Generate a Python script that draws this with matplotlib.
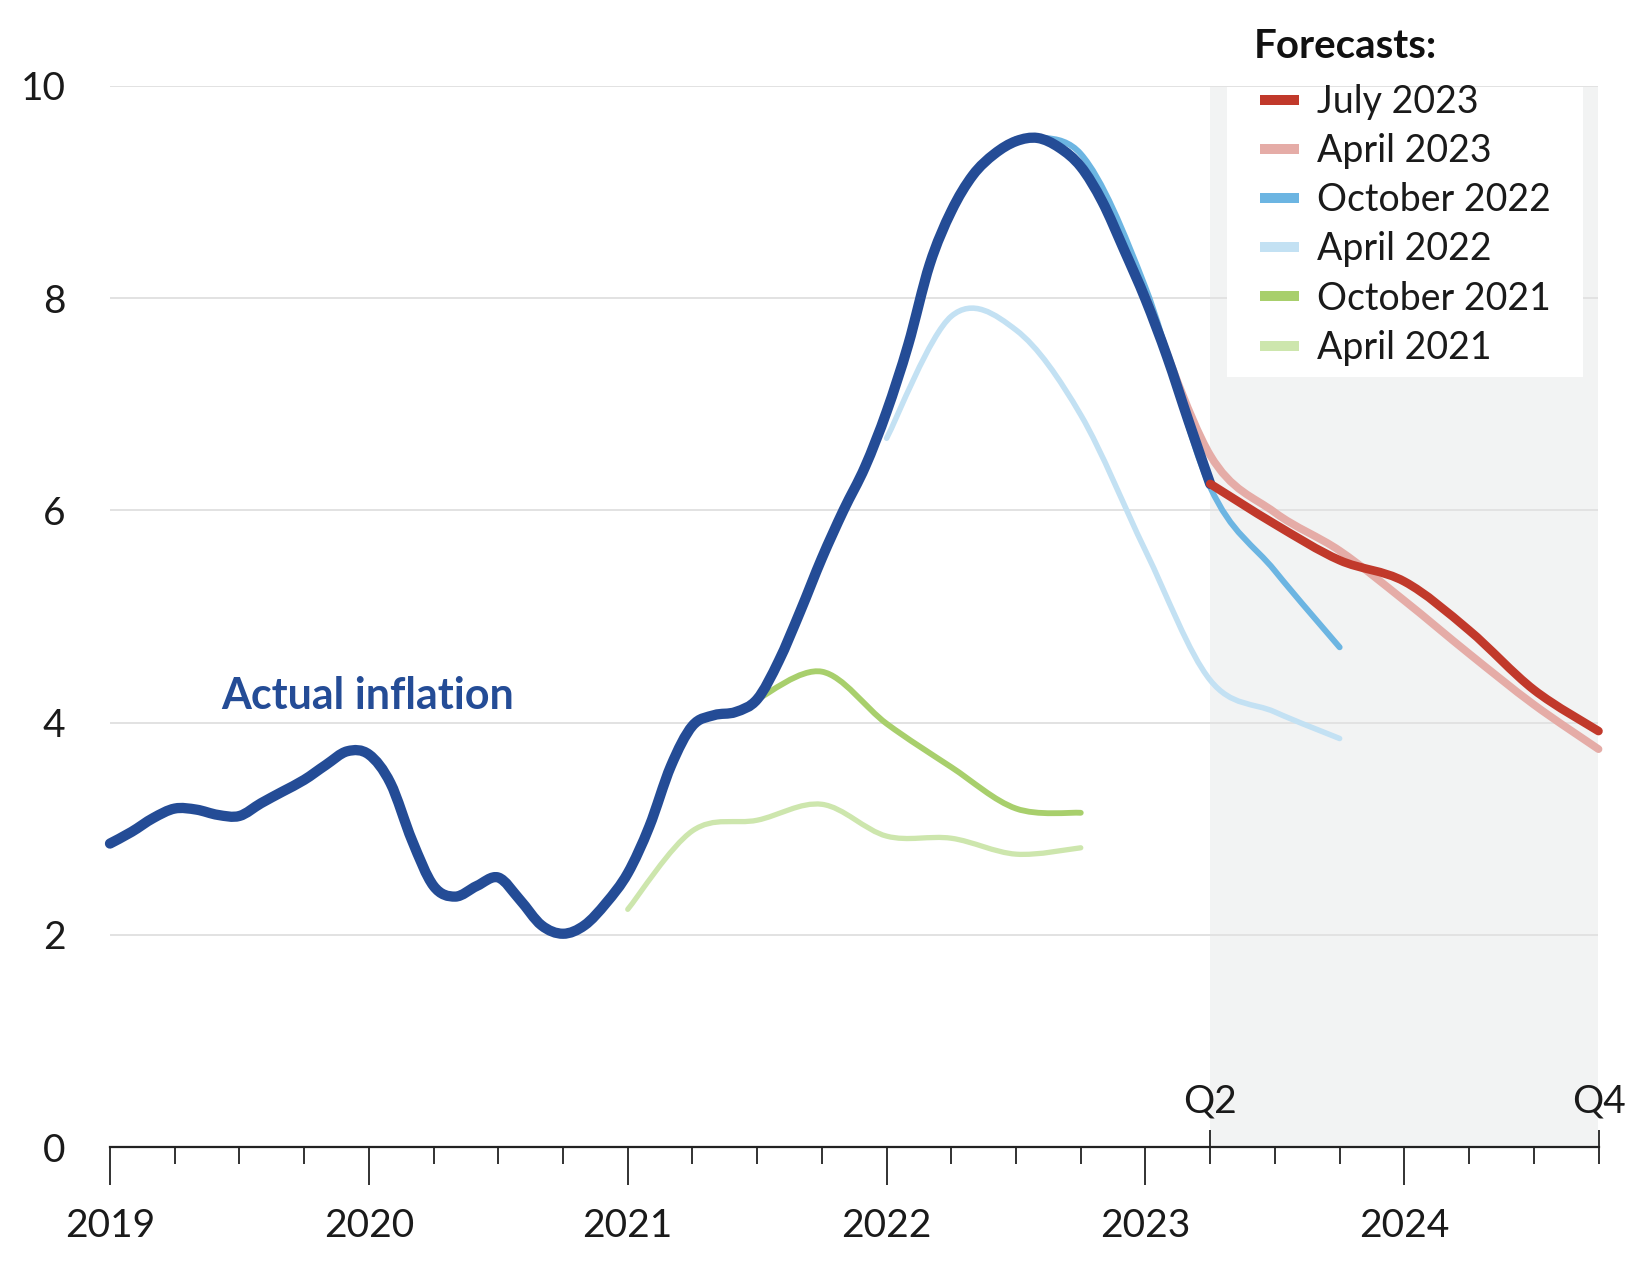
import matplotlib
matplotlib.use("Agg")
import matplotlib.pyplot as plt
import numpy as np
from matplotlib.path import Path
from matplotlib.patches import PathPatch, Rectangle
from matplotlib.lines import Line2D

plt.rcParams.update({
    "font.family": ["Lato", "DejaVu Sans"],
    "text.color": "#1a1a1a",
    "xtick.color": "#1a1a1a",
    "ytick.color": "#1a1a1a",
})

# --- Data ------------------------------------------------------------
# actual inflation, monthly from Jan 2019 to Apr 2023 (%)
actual_inflation = [
    2.86, 2.97, 3.10, 3.19, 3.18, 3.13, 3.12, 3.24, 3.35, 3.46, 3.60, 3.73,
    3.70, 3.43, 2.89, 2.46, 2.36, 2.46, 2.54, 2.33, 2.09, 2.01, 2.09, 2.30,
    2.58, 3.02, 3.59, 3.97, 4.07, 4.10, 4.22, 4.58, 5.05, 5.55, 6.00, 6.41,
    6.93, 7.56, 8.32, 8.82, 9.16, 9.36, 9.48, 9.51, 9.42, 9.24, 8.91, 8.46,
    7.99, 7.45, 6.84, 6.25,
]
actual_start = 2019.0

# forecast vintages, quarterly values (%) and the quarter they start at
forecast_labels = ["July 2023", "April 2023", "October 2022",
                   "April 2022", "October 2021", "April 2021"]
jul2023 = [6.25, 5.87, 5.53, 5.33, 4.87, 4.31, 3.92]
apr2023 = [8.02, 6.52, 5.98, 5.62, 5.15, 4.65, 4.17, 3.75]
oct2022 = [9.50, 9.36, 8.10, 6.22, 5.43, 4.71]
apr2022 = [6.68, 7.83, 7.70, 6.90, 5.62, 4.40, 4.10, 3.85]
oct2021 = [4.22, 4.48, 3.99, 3.58, 3.19, 3.15]
apr2021 = [2.24, 2.98, 3.08, 3.23, 2.93, 2.91, 2.76, 2.82]
forecast_starts = [2023.25, 2023.0, 2022.5, 2022.0, 2021.5, 2021.0]
forecast_values = [jul2023, apr2023, oct2022, apr2022, oct2021, apr2021]

year_ticks = [2019, 2020, 2021, 2022, 2023, 2024]
quarter_marks = [2023.25, 2024.75]
quarter_labels = ["Q2", "Q4"]
y_ticks = [0, 2, 4, 6, 8, 10]
forecast_window = (2023.25, 2024.75)

# --- Style -----------------------------------------------------------
ACTUAL_COLOR = "#244c96"
FORECAST_COLORS = ["#c1392b", "#e5aca7", "#6cb5e2", "#c3e1f3", "#a8cf6c", "#cde6ad"]
FORECAST_WIDTHS = [6.2, 5.6, 4.3, 4.0, 4.2, 3.8]
FORECAST_Z = [6, 4, 3.5, 3, 3, 3]
TICK_SIZE = 28


def smooth_path(xs, ys):
    """Catmull-Rom curve through the points, as cubic bezier segments."""
    pts = np.column_stack([xs, ys])
    n = len(pts)
    verts = [pts[0]]
    codes = [Path.MOVETO]
    for i in range(n - 1):
        p0 = pts[max(i - 1, 0)]
        p1 = pts[i]
        p2 = pts[i + 1]
        p3 = pts[min(i + 2, n - 1)]
        verts += [p1 + (p2 - p0) / 6, p2 - (p3 - p1) / 6, p2]
        codes += [Path.CURVE4] * 3
    return Path(verts, codes)


def draw_curve(ax, xs, ys, color, lw, z):
    patch = PathPatch(smooth_path(xs, ys), fill=False, edgecolor=color, lw=lw,
                      capstyle="round", joinstyle="round", zorder=z, clip_on=False)
    ax.add_patch(patch)


fig = plt.figure(figsize=(16.4, 12.61), dpi=100)
ax = fig.add_axes([110 / 1640, 114 / 1261, 1488.5 / 1640, 1061 / 1261])

ax.axvspan(*forecast_window, color="#f2f3f3", lw=0, zorder=0.2)

for vals, start, color, lw, z in zip(forecast_values, forecast_starts,
                                     FORECAST_COLORS, FORECAST_WIDTHS, FORECAST_Z):
    xs = start + np.arange(len(vals)) * 0.25
    draw_curve(ax, xs, vals, color, lw, z)

actual_x = actual_start + np.arange(len(actual_inflation)) / 12
draw_curve(ax, actual_x, actual_inflation, ACTUAL_COLOR, 7.4, 5)

ax.text(2019.43, 4.25, "Actual inflation", color=ACTUAL_COLOR, fontsize=31,
        fontweight="bold", ha="left", va="center")

# axes
ax.set_xlim(2019, 2024.75)
ax.set_ylim(0, 10)
for s in ["top", "right", "left"]:
    ax.spines[s].set_visible(False)
ax.spines["bottom"].set_color("#222222")
ax.spines["bottom"].set_linewidth(1.6)
ax.set_axisbelow(True)
ax.yaxis.grid(True, color="#e2e2e2", lw=1.4)

ax.set_xticks(year_ticks, [str(y) for y in year_ticks])
ax.set_xticks(np.arange(2019, 2024.76, 0.25), minor=True)
ax.tick_params(axis="x", which="major", length=27, width=1.3, pad=17,
               labelsize=TICK_SIZE, color="#222222")
ax.tick_params(axis="x", which="minor", length=12, width=1.3, color="#222222")
ax.set_yticks(y_ticks)
ax.tick_params(axis="y", length=0, pad=32, labelsize=TICK_SIZE)

# Q2 / Q4 markers above the axis
sec = ax.secondary_xaxis(0)
sec.set_zorder(9)
sec.set_xticks(quarter_marks, quarter_labels)
sec.xaxis.set_ticks_position("top")
sec.tick_params(axis="x", top=True, labeltop=True, bottom=False, labelbottom=False,
                direction="out", length=12, width=1.3, pad=8, labelsize=TICK_SIZE,
                color="#222222")
for s in sec.spines.values():
    s.set_visible(False)

# legend panel
ax.add_patch(Rectangle((1227 / 1640, 1 - 377 / 1261), 356 / 1640, 290 / 1261,
                       transform=fig.transFigure, facecolor="white", edgecolor="none",
                       zorder=7, clip_on=False))
fig.text(1254 / 1640, 1 - 46 / 1261, "Forecasts:", fontsize=29, fontweight="bold",
         ha="left", va="center", color="#111111")
handles = [Line2D([], [], color=c, lw=7.2, solid_capstyle="butt") for c in FORECAST_COLORS]
leg = ax.legend(handles, forecast_labels, loc="upper left",
                bbox_to_anchor=(1260 / 1640, 1 - 84 / 1261),
                bbox_transform=fig.transFigure, frameon=False, fontsize=27,
                handlelength=1.03, handletextpad=0.5,
                labelspacing=0.35, borderpad=0, borderaxespad=0)
leg.set_zorder(8)

fig.savefig("out.png", dpi=100)
